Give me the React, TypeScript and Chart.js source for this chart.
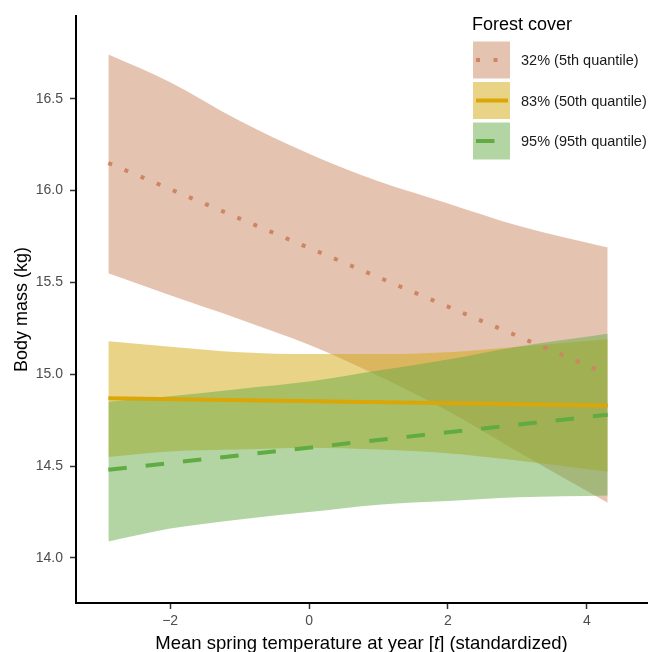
import React, { useEffect, useRef } from "react";
import { Chart, registerables } from "chart.js";
Chart.register(...registerables);

// ---- data ----
const ribbonX = [-2.89, -2, -1, 0, 1, 2, 3, 4.3];
const salmonUpper = [16.74, 16.59, 16.38, 16.2, 16.05, 15.93, 15.81, 15.69];
const salmonLower = [15.55, 15.43, 15.3, 15.16, 14.99, 14.8, 14.58, 14.3];
const yellowUpper = [15.18, 15.15, 15.12, 15.11, 15.11, 15.12, 15.15, 15.19];
const yellowLower = [14.55, 14.58, 14.59, 14.6, 14.59, 14.57, 14.53, 14.47];
const greenUpper = [14.85, 14.88, 14.92, 14.96, 15.02, 15.08, 15.15, 15.22];
const greenLower = [14.09, 14.16, 14.21, 14.25, 14.29, 14.31, 14.33, 14.34];

const lineX = [-2.89, 4.3];
const salmonLine = [16.15, 15.0];
const yellowLine = [14.87, 14.83];
const greenLine = [14.48, 14.78];

const seriesLabels = ["32% (5th quantile)", "83% (50th quantile)", "95% (95th quantile)"];
const legendTitle = "Forest cover";
const xTickValues = [-2, 0, 2, 4];
const xTickLabels = ["\u22122", "0", "2", "4"];
const yTickValues = [14.0, 14.5, 15.0, 15.5, 16.0, 16.5];
const yTickLabels = ["14.0", "14.5", "15.0", "15.5", "16.0", "16.5"];
const yTitle = "Body mass (kg)";
const xTitleParts = ["Mean spring temperature at year [", "t", "] (standardized)"];

// ---- styles ----
const FONT = "'Liberation Sans', Arial, Helvetica, sans-serif";
const lineColors = ["rgb(205,133,98)", "rgb(218,166,8)", "rgb(96,172,66)"];
const fillColors = ["rgba(203,135,99,0.5)", "rgba(212,168,14,0.5)", "rgba(103,171,71,0.5)"];
const dashes = [[4, 13.5], [], [18.5, 19]];

const pts = (xs: number[], ys: number[]) => xs.map((x, i) => ({ x, y: ys[i] }));

const legendPlugin = {
  id: "customLegendAndTitle",
  afterDraw(chart: any) {
    const ctx = chart.ctx as CanvasRenderingContext2D;
    ctx.save();
    // legend title
    ctx.fillStyle = "#000";
    ctx.textBaseline = "alphabetic";
    ctx.textAlign = "left";
    ctx.font = `18px ${FONT}`;
    ctx.fillText(legendTitle, 472, 30);
    const keyX = 473;
    const keyW = 37;
    seriesLabels.forEach((label, i) => {
      const y0 = 41.5 + i * 40.5;
      ctx.fillStyle = "#fff";
      ctx.fillRect(keyX, y0, keyW, keyW);
      ctx.fillStyle = fillColors[i];
      ctx.fillRect(keyX, y0, keyW, keyW);
      ctx.strokeStyle = lineColors[i];
      ctx.lineWidth = 4;
      ctx.lineCap = "butt";
      ctx.setLineDash(dashes[i]);
      ctx.beginPath();
      ctx.moveTo(keyX + 3, y0 + keyW / 2);
      ctx.lineTo(keyX + keyW - 2, y0 + keyW / 2);
      ctx.stroke();
      ctx.setLineDash([]);
      ctx.fillStyle = "#1a1a1a";
      ctx.font = `14.5px ${FONT}`;
      ctx.textBaseline = "middle";
      ctx.fillText(label, 521, y0 + keyW / 2 + 1);
    });
    // x axis title with italic t
    const area = chart.chartArea;
    const cx = (area.left + area.right) / 2;
    const normal = `18.5px ${FONT}`;
    const italic = `italic 18.5px ${FONT}`;
    ctx.font = normal;
    const w0 = ctx.measureText(xTitleParts[0]).width;
    const w2 = ctx.measureText(xTitleParts[2]).width;
    ctx.font = italic;
    const w1 = ctx.measureText(xTitleParts[1]).width;
    let x = cx - (w0 + w1 + w2) / 2;
    const by = 649;
    ctx.textBaseline = "alphabetic";
    ctx.fillStyle = "#000";
    ctx.font = normal;
    ctx.fillText(xTitleParts[0], x, by);
    x += w0;
    ctx.font = italic;
    ctx.fillText(xTitleParts[1], x, by);
    x += w1;
    ctx.font = normal;
    ctx.fillText(xTitleParts[2], x, by);
    ctx.restore();
  },
};

export default function App() {
  const ref = useRef<HTMLCanvasElement | null>(null);
  useEffect(() => {
    if (!ref.current) return;
    const ribbon = (upper: number[], lower: number[], i: number, order: number) => [
      {
        label: `ribbon-upper-${i}`,
        data: pts(ribbonX, upper),
        borderWidth: 0,
        borderColor: "rgba(0,0,0,0)",
        backgroundColor: fillColors[i],
        pointRadius: 0,
        fill: "+1",
        tension: 0.4,
        cubicInterpolationMode: "monotone",
        order,
      },
      {
        label: `ribbon-lower-${i}`,
        data: pts(ribbonX, lower),
        borderWidth: 0,
        borderColor: "rgba(0,0,0,0)",
        pointRadius: 0,
        fill: false,
        tension: 0.4,
        cubicInterpolationMode: "monotone",
        order: order + 1,
      },
    ];
    const line = (ys: number[], i: number, order: number) => ({
      label: seriesLabels[i],
      data: pts(lineX, ys),
      borderColor: lineColors[i],
      borderWidth: 4,
      borderDash: dashes[i],
      borderCapStyle: "butt",
      pointRadius: 0,
      fill: false,
      order,
    });
    const chart = new Chart(ref.current, {
      type: "line",
      data: {
        datasets: [
          ...ribbon(salmonUpper, salmonLower, 0, 30),
          ...ribbon(yellowUpper, yellowLower, 1, 20),
          ...ribbon(greenUpper, greenLower, 2, 10),
          line(salmonLine, 0, 3),
          line(yellowLine, 1, 2),
          line(greenLine, 2, 1),
        ] as any,
      },
      options: {
        animation: false,
        responsive: true,
        maintainAspectRatio: false,
        layout: { padding: { left: 0, top: 16, right: 3, bottom: 0 } },
        plugins: {
          legend: { display: false },
          tooltip: { enabled: false },
          filler: { propagate: false },
        },
        scales: {
          x: {
            type: "linear",
            min: -3.356,
            max: 4.866,
            afterFit: (s: any) => {
              s.height = 49;
            },
            afterBuildTicks: (s: any) => {
              s.ticks = xTickValues.map((v) => ({ value: v }));
            },
            ticks: {
              callback: (_v: any, i: number) => xTickLabels[i],
              color: "#4d4d4d",
              font: { family: FONT, size: 14 },
              padding: 4,
              maxRotation: 0,
              autoSkip: false,
            },
            grid: {
              display: true,
              drawOnChartArea: false,
              drawTicks: true,
              tickLength: 6,
              tickColor: "#333",
              tickWidth: 1.5,
            },
            border: { display: true, color: "#000", width: 2 },
            title: { display: false },
          },
          y: {
            type: "linear",
            min: 13.755,
            max: 16.95,
            afterFit: (s: any) => {
              s.width = 76;
            },
            afterBuildTicks: (s: any) => {
              s.ticks = yTickValues.map((v) => ({ value: v }));
            },
            ticks: {
              callback: (_v: any, i: number) => yTickLabels[i],
              color: "#4d4d4d",
              font: { family: FONT, size: 14 },
              padding: 7,
              autoSkip: false,
            },
            grid: {
              display: true,
              drawOnChartArea: false,
              drawTicks: true,
              tickLength: 6,
              tickColor: "#333",
              tickWidth: 1.5,
            },
            border: { display: true, color: "#000", width: 2 },
            title: {
              display: true,
              text: yTitle,
              color: "#000",
              font: { family: FONT, size: 18 },
              padding: { top: 11, bottom: 0 },
            },
          },
        },
      },
      plugins: [legendPlugin],
    } as any);
    return () => chart.destroy();
  }, []);
  return (
    <div style={{ position: "fixed", left: 0, top: 0, width: 650, height: 652, background: "#fff" }}>
      <canvas ref={ref} />
    </div>
  );
}
